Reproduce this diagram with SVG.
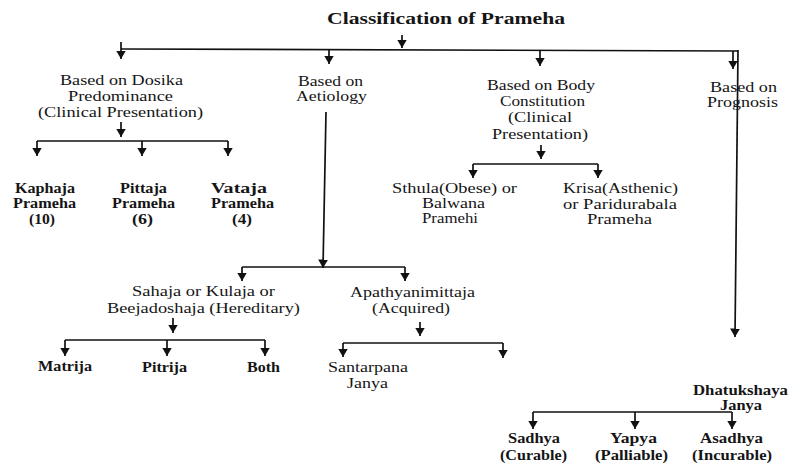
<svg xmlns="http://www.w3.org/2000/svg" width="789" height="463" viewBox="0 0 789 463">
<style>
text{font-family:"Liberation Serif","DejaVu Serif",serif;font-size:14px;fill:#151515}
.b{font-weight:bold}
.t{font-weight:bold;font-size:17px}
.c line{stroke:#111;stroke-width:1.7;fill:none}
</style>
<defs>
<marker id="ah" markerUnits="userSpaceOnUse" markerWidth="11" markerHeight="11" refX="8.5" refY="5" orient="auto">
<path d="M0,0 L8.5,5 L0,10 z" fill="#111"/>
</marker>
</defs>
<rect width="789" height="463" fill="#fff"/>
<g class="c" id="connectors">
<line x1="402" y1="35" x2="402" y2="48" marker-end="url(#ah)"/>
<line x1="121" y1="49" x2="738" y2="51"/>
<line x1="121" y1="42" x2="121" y2="59" marker-end="url(#ah)"/>
<line x1="329" y1="50" x2="329" y2="64" marker-end="url(#ah)"/>
<line x1="540" y1="50" x2="540" y2="66" marker-end="url(#ah)"/>
<line x1="733" y1="51" x2="733" y2="69" marker-end="url(#ah)"/>
<line x1="738" y1="50" x2="735" y2="337" marker-end="url(#ah)"/>
<line x1="121" y1="122" x2="121" y2="137" marker-end="url(#ah)"/>
<line x1="37" y1="141" x2="228" y2="141"/>
<line x1="37" y1="141" x2="37" y2="156" marker-end="url(#ah)"/>
<line x1="142" y1="141" x2="142" y2="156" marker-end="url(#ah)"/>
<line x1="228" y1="141" x2="228" y2="156" marker-end="url(#ah)"/>
<line x1="326" y1="112" x2="323" y2="268" marker-end="url(#ah)"/>
<line x1="242" y1="267" x2="405" y2="267"/>
<line x1="242" y1="267" x2="242" y2="281" marker-end="url(#ah)"/>
<line x1="405" y1="267" x2="405" y2="281" marker-end="url(#ah)"/>
<line x1="541" y1="145" x2="541" y2="159" marker-end="url(#ah)"/>
<line x1="473" y1="164" x2="598" y2="164"/>
<line x1="473" y1="164" x2="473" y2="178" marker-end="url(#ah)"/>
<line x1="598" y1="164" x2="598" y2="178" marker-end="url(#ah)"/>
<line x1="173" y1="318" x2="173" y2="333" marker-end="url(#ah)"/>
<line x1="65" y1="340" x2="265" y2="340"/>
<line x1="65" y1="340" x2="65" y2="356" marker-end="url(#ah)"/>
<line x1="167" y1="340" x2="167" y2="356" marker-end="url(#ah)"/>
<line x1="265" y1="340" x2="265" y2="356" marker-end="url(#ah)"/>
<line x1="420" y1="322" x2="420" y2="336" marker-end="url(#ah)"/>
<line x1="343" y1="343" x2="503" y2="343"/>
<line x1="343" y1="343" x2="343" y2="357" marker-end="url(#ah)"/>
<line x1="503" y1="343" x2="503" y2="358" marker-end="url(#ah)"/>
<line x1="533" y1="412" x2="732" y2="412"/>
<line x1="533" y1="412" x2="533" y2="429" marker-end="url(#ah)"/>
<line x1="635" y1="412" x2="635" y2="429" marker-end="url(#ah)"/>
<line x1="732" y1="412" x2="732" y2="429" marker-end="url(#ah)"/>
</g>
<g id="title"><text class="t" x="327" y="24" textLength="238" lengthAdjust="spacingAndGlyphs">Classification of Prameha</text></g>
<g id="dosika">
<text x="60" y="85" textLength="123" lengthAdjust="spacingAndGlyphs">Based on Dosika</text>
<text x="68" y="101" textLength="105" lengthAdjust="spacingAndGlyphs">Predominance</text>
<text x="38" y="117" textLength="165" lengthAdjust="spacingAndGlyphs">(Clinical Presentation)</text>
</g>
<g id="kaphaja">
<text class="b" x="15" y="193" textLength="60" lengthAdjust="spacingAndGlyphs">Kaphaja</text>
<text class="b" x="13" y="208" textLength="63" lengthAdjust="spacingAndGlyphs">Prameha</text>
<text class="b" x="29" y="224" textLength="26" lengthAdjust="spacingAndGlyphs">(10)</text>
</g>
<g id="pittaja">
<text class="b" x="120" y="193" textLength="47" lengthAdjust="spacingAndGlyphs">Pittaja</text>
<text class="b" x="112" y="208" textLength="63" lengthAdjust="spacingAndGlyphs">Prameha</text>
<text class="b" x="132" y="224" textLength="21" lengthAdjust="spacingAndGlyphs">(6)</text>
</g>
<g id="vataja">
<text class="b" x="211" y="193" textLength="56" lengthAdjust="spacingAndGlyphs">Vataja</text>
<text class="b" x="211" y="208" textLength="63" lengthAdjust="spacingAndGlyphs">Prameha</text>
<text class="b" x="232" y="224" textLength="20" lengthAdjust="spacingAndGlyphs">(4)</text>
</g>
<g id="aetiology">
<text x="298" y="86" textLength="65" lengthAdjust="spacingAndGlyphs">Based on</text>
<text x="296" y="101" textLength="71" lengthAdjust="spacingAndGlyphs">Aetiology</text>
</g>
<g id="body">
<text x="487" y="90" textLength="108" lengthAdjust="spacingAndGlyphs">Based on Body</text>
<text x="500" y="106" textLength="85" lengthAdjust="spacingAndGlyphs">Constitution</text>
<text x="508" y="122" textLength="64" lengthAdjust="spacingAndGlyphs">(Clinical</text>
<text x="492" y="139" textLength="96" lengthAdjust="spacingAndGlyphs">Presentation)</text>
</g>
<g id="sthula">
<text x="392" y="193" textLength="125" lengthAdjust="spacingAndGlyphs">Sthula(Obese) or</text>
<text x="422" y="208" textLength="63" lengthAdjust="spacingAndGlyphs">Balwana</text>
<text x="422" y="223" textLength="56" lengthAdjust="spacingAndGlyphs">Pramehi</text>
</g>
<g id="krisa">
<text x="563" y="193" textLength="115" lengthAdjust="spacingAndGlyphs">Krisa(Asthenic)</text>
<text x="563" y="209" textLength="114" lengthAdjust="spacingAndGlyphs">or Paridurabala</text>
<text x="587" y="224" textLength="65" lengthAdjust="spacingAndGlyphs">Prameha</text>
</g>
<g id="prognosis">
<text x="710" y="92" textLength="67" lengthAdjust="spacingAndGlyphs">Based on</text>
<text x="707" y="107" textLength="71" lengthAdjust="spacingAndGlyphs">Prognosis</text>
</g>
<g id="sahaja">
<text x="132" y="296" textLength="143" lengthAdjust="spacingAndGlyphs">Sahaja or Kulaja or</text>
<text x="107" y="313" textLength="193" lengthAdjust="spacingAndGlyphs">Beejadoshaja (Hereditary)</text>
</g>
<g id="apathya">
<text x="350" y="297" textLength="125" lengthAdjust="spacingAndGlyphs">Apathyanimittaja</text>
<text x="372" y="313" textLength="78" lengthAdjust="spacingAndGlyphs">(Acquired)</text>
</g>
<g id="matrija"><text class="b" x="38" y="371" textLength="54" lengthAdjust="spacingAndGlyphs">Matrija</text></g>
<g id="pitrija"><text class="b" x="142" y="372" textLength="45" lengthAdjust="spacingAndGlyphs">Pitrija</text></g>
<g id="both"><text class="b" x="247" y="372" textLength="33" lengthAdjust="spacingAndGlyphs">Both</text></g>
<g id="santarpana">
<text x="328" y="372" textLength="80" lengthAdjust="spacingAndGlyphs">Santarpana</text>
<text x="347" y="388" textLength="41" lengthAdjust="spacingAndGlyphs">Janya</text>
</g>
<g id="dhatukshaya">
<text class="b" x="693" y="395" textLength="95" lengthAdjust="spacingAndGlyphs">Dhatukshaya</text>
<text class="b" x="720" y="410" textLength="42" lengthAdjust="spacingAndGlyphs">Janya</text>
</g>
<g id="sadhya">
<text class="b" x="508" y="443" textLength="52" lengthAdjust="spacingAndGlyphs">Sadhya</text>
<text class="b" x="500" y="460" textLength="67" lengthAdjust="spacingAndGlyphs">(Curable)</text>
</g>
<g id="yapya">
<text class="b" x="610" y="443" textLength="47" lengthAdjust="spacingAndGlyphs">Yapya</text>
<text class="b" x="595" y="460" textLength="73" lengthAdjust="spacingAndGlyphs">(Palliable)</text>
</g>
<g id="asadhya">
<text class="b" x="700" y="443" textLength="63" lengthAdjust="spacingAndGlyphs">Asadhya</text>
<text class="b" x="692" y="460" textLength="80" lengthAdjust="spacingAndGlyphs">(Incurable)</text>
</g>
</svg>
